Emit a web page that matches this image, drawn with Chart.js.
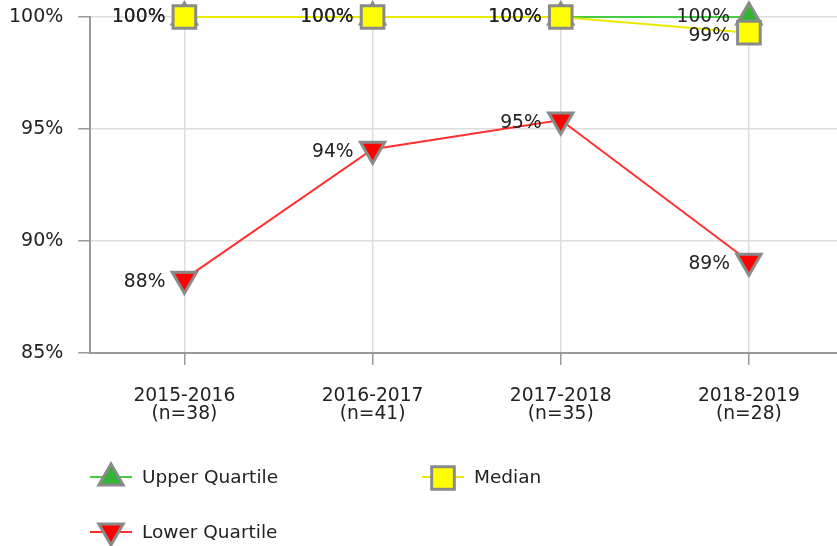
<!DOCTYPE html>
<html>
<head>
<meta charset="utf-8">
<script src="https://cdn.jsdelivr.net/npm/chart.js@4/dist/chart.umd.min.js"></script>
<style>
html,body{margin:0;padding:0;background:#fff;overflow:hidden;}
#wrap{width:837px;height:546px;overflow:hidden;}
</style>
</head>
<body>
<div id="wrap"><canvas id="c" width="843" height="546"></canvas></div>
<script>
const categories = [['2015-2016','(n=38)'],['2016-2017','(n=41)'],['2017-2018','(n=35)'],['2018-2019','(n=28)']];
const upperQuartile = [100, 100, 100, 100];
const median = [100, 100, 100, 99.3];
const lowerQuartile = [88.3, 94.1, 95.4, 89.1];
const yTicks = [85, 90, 95, 100];

const FONT = 'DejaVu Sans, Verdana, sans-serif';
const GRAYB = '#8a8a8a';

const seriesStyle = [
  {label:'Upper Quartile', data: upperQuartile, line:'#44cc44', fill:'#33b533', style:'triangle', rot:0, r:14, order:1, dy:0},
  {label:'Median', data: median, line:'#eaea00', fill:'#ffff00', style:'rect', rot:0, r:16, order:0, dy:3},
  {label:'Lower Quartile', data: lowerQuartile, line:'#ff3030', fill:'#ff0000', style:'triangle', rot:180, r:14, order:2, dy:3}
];

const labelPlugin = {
  id:'valueLabels',
  afterDatasetsDraw(chart){
    const ctx = chart.ctx;
    ctx.save();
    ctx.font = '18.7px ' + FONT;
    ctx.fillStyle = '#222';
    ctx.textAlign = 'right';
    ctx.textBaseline = 'middle';
    chart.data.datasets.forEach((ds, i) => {
      const meta = chart.getDatasetMeta(i);
      meta.data.forEach((pt, j) => {
        const dy = (i === 1 && ds.data[j] === 100) ? 0 : seriesStyle[i].dy;
        ctx.fillText(Math.round(ds.data[j]) + '%', pt.x - 19, pt.y + dy);
      });
    });
    ctx.restore();
  }
};

const legendPos = [
  {x:90, y:477},
  {x:422, y:477},
  {x:90, y:532}
];
const legendPlugin = {
  id:'customLegend',
  afterDraw(chart){
    const ctx = chart.ctx;
    ctx.save();
    seriesStyle.forEach((s, i) => {
      const p = legendPos[i];
      ctx.strokeStyle = s.line;
      ctx.lineWidth = 2;
      ctx.beginPath();
      ctx.moveTo(p.x, p.y);
      ctx.lineTo(p.x + 42, p.y);
      ctx.stroke();
      ctx.fillStyle = s.fill;
      ctx.strokeStyle = GRAYB;
      ctx.lineWidth = 3;
      Chart.helpers.drawPoint(ctx, {pointStyle:s.style, radius:s.r, rotation:s.rot, borderWidth:3}, p.x + 21, p.y + (s.rot ? -1 : 1));
      ctx.fillStyle = '#222';
      ctx.font = '18.5px ' + FONT;
      ctx.textAlign = 'left';
      ctx.textBaseline = 'middle';
      ctx.fillText(s.label, p.x + 52, p.y + 1);
    });
    ctx.restore();
  }
};

new Chart(document.getElementById('c'), {
  type:'line',
  data:{
    labels: categories,
    datasets: seriesStyle.map(s => ({
      label: s.label,
      data: s.data,
      borderColor: s.line,
      borderWidth: 2,
      backgroundColor: s.fill,
      pointBackgroundColor: s.fill,
      pointBorderColor: GRAYB,
      pointBorderWidth: 3,
      pointStyle: s.style,
      pointRotation: s.rot,
      pointRadius: s.r,
      pointHoverRadius: s.r,
      order: s.order,
      clip: false,
      tension: 0
    }))
  },
  options:{
    responsive:false,
    animation:false,
    events:[],
    layout:{autoPadding:false, padding:{left:-6, right:0, top:17, bottom:101}},
    plugins:{legend:{display:false}, tooltip:{enabled:false}},
    scales:{
      x:{
        offset:true,
        grid:{offset:false, color:'#dddddd', lineWidth:1.5, tickColor:'#999', tickLength:12},
        border:{color:'#999', width:2},
        ticks:{font:{family:FONT, size:18.7, lineHeight:0.96}, color:'#222', padding:22, maxRotation:0, autoSkip:false}
      },
      y:{
        min:85, max:100,
        afterBuildTicks(axis){ axis.ticks = yTicks.map(v => ({value:v})); },
        afterFit(axis){ axis.paddingTop = 0; },
        grid:{color:'#dddddd', lineWidth:1.5, tickColor:'#999', tickLength:12},
        border:{color:'#999', width:2},
        ticks:{font:{family:FONT, size:19}, color:'#222', padding:15, callback:v => v + '%'}
      }
    }
  },
  plugins:[labelPlugin, legendPlugin]
});
</script>
</body>
</html>
